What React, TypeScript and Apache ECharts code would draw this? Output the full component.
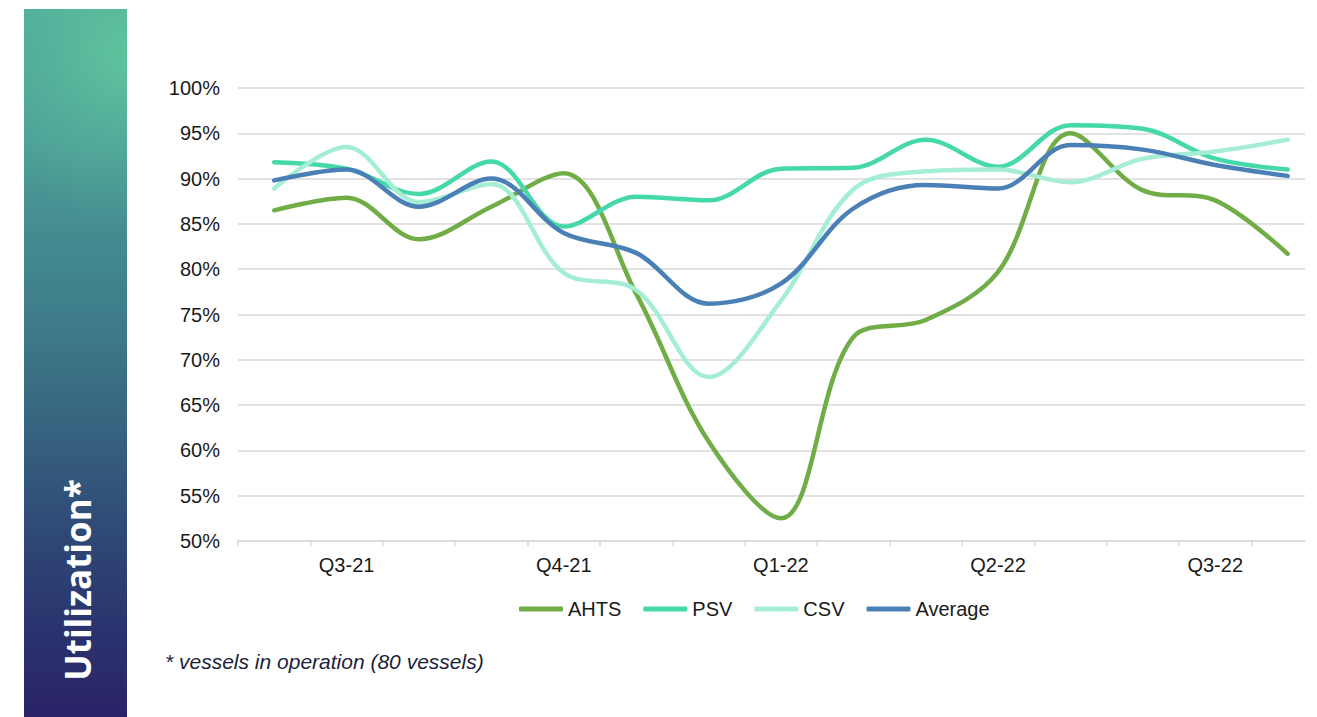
import React, { useEffect, useRef } from "react";
import * as echarts from "echarts";

const months = ["Jul-21", "Aug-21", "Sep-21", "Oct-21", "Nov-21", "Dec-21", "Jan-22", "Feb-22", "Mar-22", "Apr-22", "May-22", "Jun-22", "Jul-22", "Aug-22", "Sep-22"];
const quarterLabels = ["Q3-21", "Q4-21", "Q1-22", "Q2-22", "Q3-22"];
const quarterMonthIndex = [1, 4, 7, 10, 13];

const AHTS = [86.5, 87.9, 83.3, 86.9, 90.6, 77.3, 61.0, 52.5, 72.5, 74.4, 79.7, 95.0, 88.7, 87.6, 81.7];
const PSV = [91.8, 91.1, 88.3, 91.9, 84.7, 88.0, 87.6, 91.1, 91.2, 94.3, 91.3, 95.9, 95.5, 92.2, 91.0];
const CSV = [88.9, 93.5, 87.4, 89.4, 79.6, 77.7, 68.1, 76.5, 88.8, 90.8, 91.0, 89.6, 92.2, 93.0, 94.3];
const AVERAGE = [89.8, 91.0, 86.9, 90.0, 84.0, 81.8, 76.2, 78.4, 86.7, 89.3, 88.9, 93.7, 93.2, 91.5, 90.3];

const yTicks = [50, 55, 60, 65, 70, 75, 80, 85, 90, 95, 100];

const seriesDefs = [
  { name: "AHTS", data: AHTS, color: "#70AD47" },
  { name: "PSV", data: PSV, color: "#45D9AA" },
  { name: "CSV", data: CSV, color: "#A6EDD6" },
  { name: "Average", data: AVERAGE, color: "#4A80B5" },
];

const FONT = "'Liberation Sans', Arial, sans-serif";

export default function App() {
  const ref = useRef<HTMLDivElement>(null);

  useEffect(() => {
    if (!ref.current) return;
    const chart = echarts.init(ref.current, undefined, { renderer: "svg" });

    const option: any = {
      animation: false,
      backgroundColor: "#ffffff",
      grid: { left: 238, right: 12, top: 88, bottom: 176, containLabel: false },
      xAxis: {
        type: "value",
        min: 0,
        max: months.length - 0.26,
        axisLine: { show: true, lineStyle: { color: "#D9D9D9", width: 1.5 } },
        axisTick: {
          show: true,
          length: 5,
          lineStyle: { color: "#D9D9D9", width: 1.5 },
          customValues: months.map((_, i) => i),
        },
        splitLine: { show: false },
        axisLabel: {
          show: true,
          margin: 14,
          fontSize: 20,
          color: "#1a1a1a",
          fontFamily: FONT,
          customValues: quarterMonthIndex.map((i) => i + 0.5),
          formatter: (v: number) => {
            const k = quarterMonthIndex.indexOf(Math.round(v - 0.5));
            return k >= 0 ? quarterLabels[k] : "";
          },
        },
      },
      yAxis: {
        type: "value",
        min: yTicks[0],
        max: yTicks[yTicks.length - 1],
        interval: 5,
        axisLine: { show: false },
        axisTick: { show: false },
        splitLine: { show: true, lineStyle: { color: "#D9D9D9", width: 1.5 } },
        axisLabel: {
          margin: 18,
          fontSize: 20,
          color: "#1a1a1a",
          fontFamily: FONT,
          formatter: "{value}%",
        },
      },
      legend: {
        left: 514,
        top: 594,
        icon: "roundRect",
        itemWidth: 44,
        itemHeight: 5,
        itemGap: 22,
        textStyle: { fontSize: 20, color: "#1a1a1a", fontFamily: FONT },
        data: seriesDefs.map((s) => s.name),
      },
      series: seriesDefs.map((s) => ({
        name: s.name,
        type: "line",
        smooth: 0.35,
        showSymbol: false,
        symbol: "none",
        color: s.color,
        lineStyle: { color: s.color, width: 4.5, cap: "round", join: "round" },
        data: s.data.map((v, i) => [i + 0.5, v]),
      })),
      graphic: [
        {
          type: "rect",
          shape: { x: 24, y: 9, width: 103, height: 708 },
          style: {
            fill: {
              type: "linear",
              x: 0,
              y: 0,
              x2: 0,
              y2: 1,
              colorStops: [
                { offset: 0, color: "#4FA99A" },
                { offset: 0.2, color: "#4A9A96" },
                { offset: 0.42, color: "#3F7F8B" },
                { offset: 0.6, color: "#37627F" },
                { offset: 0.75, color: "#2E4775" },
                { offset: 0.88, color: "#2A336E" },
                { offset: 1, color: "#2A2367" },
              ],
            },
          },
          z: 0,
        },
        {
          type: "rect",
          shape: { x: 24, y: 9, width: 103, height: 708 },
          style: {
            fill: {
              type: "radial",
              x: 127,
              y: 55,
              r: 170,
              global: true,
              colorStops: [
                { offset: 0, color: "rgba(98,200,158,0.85)" },
                { offset: 0.5, color: "rgba(98,200,158,0.35)" },
                { offset: 1, color: "rgba(98,200,158,0)" },
              ],
            },
          },
          z: 1,
        },
        {
          type: "text",
          x: 77,
          y: 580,
          rotation: Math.PI / 2,
          style: {
            text: "Utilization*",
            fill: "#ffffff",
            font: "bold 35px 'Open Sans', 'DejaVu Sans', sans-serif",
            align: "center",
            verticalAlign: "middle",
          },
          z: 2,
        },
        {
          type: "text",
          x: 165,
          y: 661,
          style: {
            text: "* vessels in operation (80 vessels)",
            fill: "#1C1F3A",
            font: "italic 21px 'Liberation Sans', Arial, sans-serif",
            align: "left",
            verticalAlign: "middle",
          },
          z: 2,
        },
      ],
    };

    chart.setOption(option);
    return () => chart.dispose();
  }, []);

  return (
    <div
      ref={ref}
      style={{ position: "absolute", left: 0, top: 0, width: 1317, height: 717, background: "#fff" }}
    />
  );
}
